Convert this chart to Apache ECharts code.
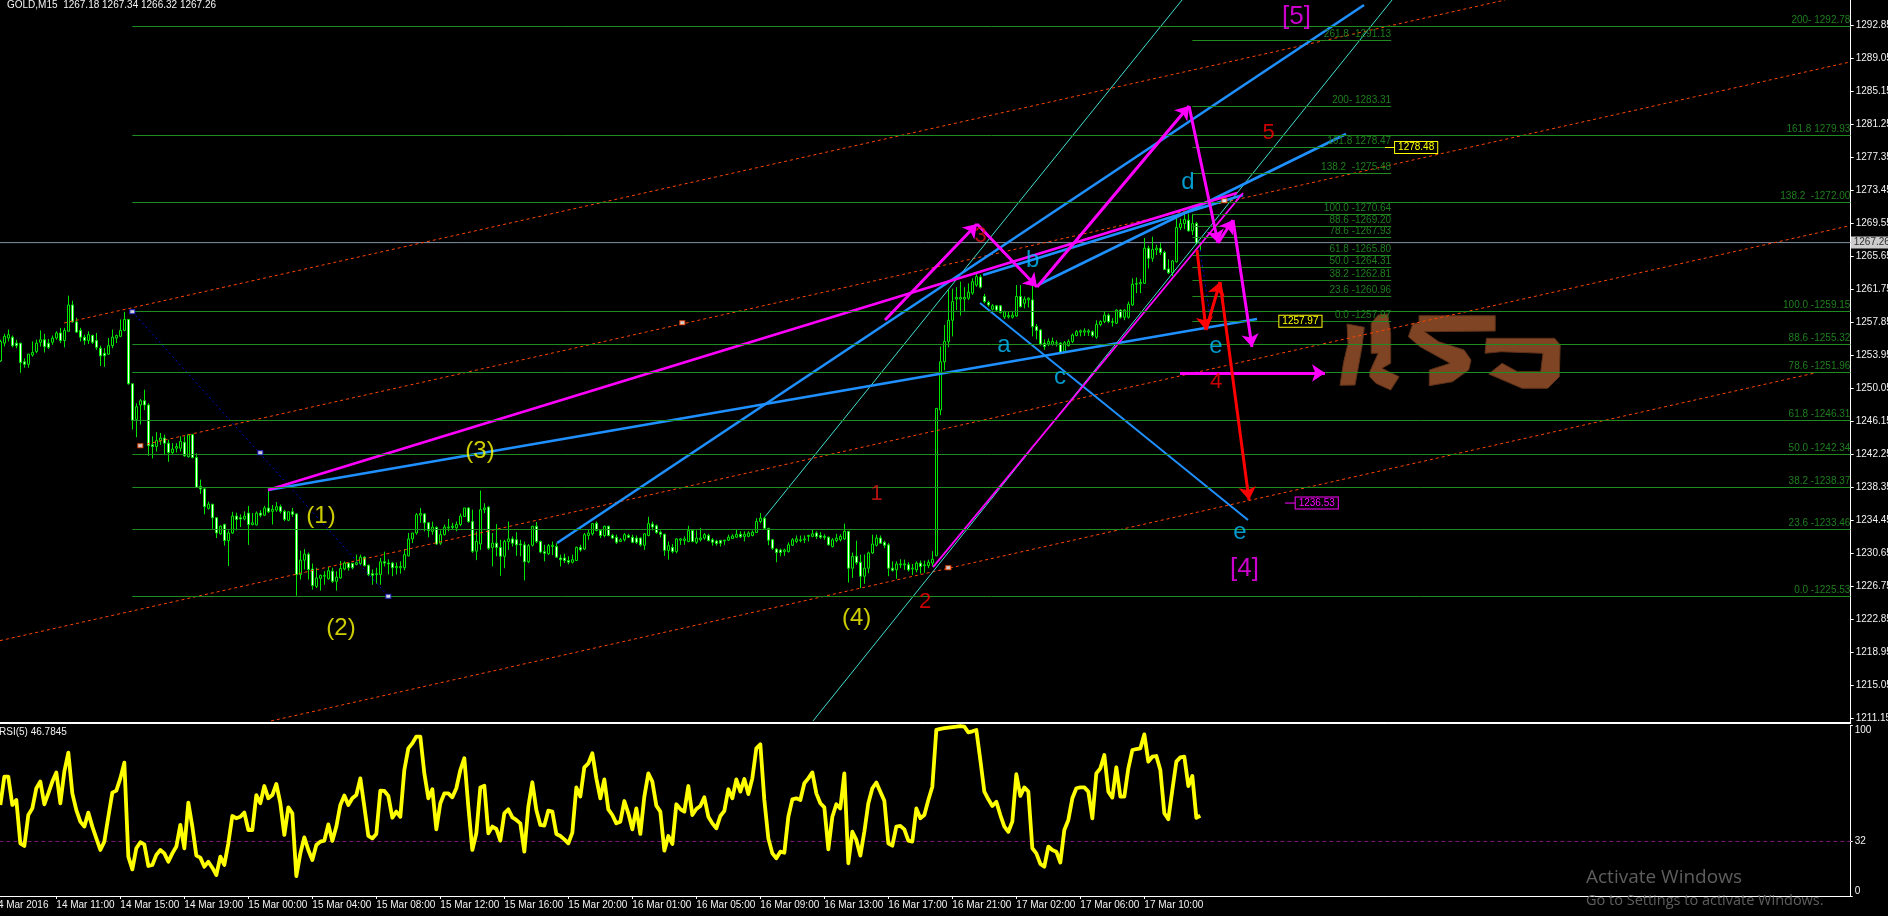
<!DOCTYPE html>
<html><head><meta charset="utf-8"><title>GOLD,M15</title>
<style>html,body{margin:0;padding:0;background:#000;overflow:hidden}#c{width:1888px;height:916px}</style>
<script src="https://cdn.jsdelivr.net/npm/echarts@6/dist/echarts.min.js"></script></head>
<body><div id="c"></div><script>
// [open, close, low, high], one row per 15-minute bar
const ohlc = [
[1253.3,1255.6,1253.2,1255.8],[1255.4,1256.2,1255.0,1256.5],[1256.0,1256.4,1255.6,1257.0],[1256.1,1255.1,1254.9,1256.3],[1255.4,1255.1,1254.8,1255.8],
[1255.4,1253.1,1251.9,1255.4],[1253.2,1252.9,1252.5,1253.6],[1252.9,1254.1,1252.5,1254.1],[1254.0,1254.3,1253.8,1255.6],[1254.4,1255.4,1254.2,1255.8],
[1255.5,1255.8,1255.0,1256.9],[1255.8,1255.0,1254.3,1256.5],[1255.4,1254.9,1254.7,1255.9],[1255.5,1256.0,1255.2,1256.3],[1256.0,1256.6,1255.8,1256.8],
[1256.6,1255.7,1255.4,1257.2],[1255.7,1256.9,1254.9,1257.2],[1256.8,1259.9,1256.8,1261.0],[1259.9,1257.9,1257.8,1260.4],[1257.9,1256.7,1256.6,1258.4],
[1256.9,1256.1,1255.6,1257.2],[1256.1,1255.7,1255.2,1256.4],[1255.7,1256.4,1255.3,1256.8],[1256.3,1255.5,1255.3,1256.4],[1255.7,1254.9,1254.6,1256.6],
[1254.8,1253.9,1252.7,1255.1],[1254.2,1253.9,1252.6,1254.8],[1254.1,1255.1,1254.0,1256.0],[1255.1,1256.1,1254.8,1257.0],[1256.0,1256.3,1255.4,1256.4],
[1256.2,1256.9,1256.1,1258.2],[1256.9,1258.2,1256.8,1259.1],[1258.2,1250.6,1250.5,1258.2],[1250.6,1246.3,1245.2,1250.6],[1246.4,1247.9,1244.3,1248.3],
[1248.1,1248.6,1245.8,1248.8],[1248.6,1248.1,1247.5,1249.9],[1248.1,1243.3,1242.1,1248.3],[1243.4,1243.2,1241.8,1244.4],[1243.2,1243.9,1242.6,1244.9],
[1243.9,1244.2,1243.4,1244.8],[1244.2,1243.6,1242.3,1244.6],[1243.6,1242.5,1241.4,1244.0],[1242.5,1242.9,1242.2,1243.6],[1243.0,1243.2,1242.5,1243.6],
[1243.0,1243.8,1242.6,1244.4],[1243.7,1242.1,1242.0,1244.4],[1242.0,1244.6,1241.9,1244.6],[1244.6,1241.9,1241.8,1244.7],[1241.9,1238.4,1238.3,1242.4],
[1238.5,1238.2,1237.6,1239.3],[1238.2,1236.1,1235.2,1238.3],[1235.9,1236.4,1235.75,1236.7],[1236.4,1234.8,1233.5,1236.4],[1234.8,1233.0,1232.4,1234.8],
[1232.9,1233.8,1232.8,1233.9],[1234.0,1232.1,1231.5,1234.1],[1232.1,1233.0,1229.1,1233.3],[1233.0,1235.0,1232.9,1235.5],[1235.0,1234.6,1233.3,1235.4],
[1234.8,1234.65,1233.7,1235.2],[1234.65,1235.0,1234.5,1235.55],[1235.35,1234.0,1231.6,1236.2],[1234.0,1234.2,1233.9,1235.35],[1233.95,1235.35,1233.9,1235.55],
[1235.35,1235.1,1234.85,1235.7],[1235.1,1235.95,1235.0,1236.2],[1235.95,1235.5,1235.35,1238.0],[1235.55,1235.8,1234.0,1236.3],[1235.7,1236.1,1235.5,1236.65],
[1236.1,1235.55,1235.3,1236.35],[1235.55,1234.6,1234.4,1235.75],[1234.5,1235.5,1234.4,1235.55],[1235.5,1235.2,1234.9,1235.95],[1235.25,1228.1,1225.6,1235.3],
[1228.1,1229.8,1227.5,1230.9],[1229.8,1230.5,1228.7,1231.1],[1230.5,1228.7,1227.5,1230.7],[1228.75,1226.8,1226.3,1229.4],[1226.7,1227.7,1226.5,1228.9],
[1227.65,1228.0,1226.2,1228.1],[1227.9,1228.0,1226.9,1228.5],[1227.6,1228.55,1227.5,1229.0],[1228.5,1227.3,1227.1,1228.9],[1227.3,1227.8,1226.2,1228.5],
[1227.7,1228.8,1227.6,1229.7],[1228.75,1229.45,1228.6,1229.65],[1229.45,1228.9,1228.55,1229.5],[1229.4,1228.9,1228.7,1229.5],[1229.3,1229.5,1229.2,1230.45],
[1229.4,1230.15,1229.25,1230.45],[1230.15,1229.15,1229.05,1230.25],[1229.2,1228.1,1227.9,1229.25],[1228.2,1228.0,1226.9,1228.7],[1228.1,1228.2,1227.0,1228.9],
[1228.1,1229.6,1226.9,1230.05],[1229.6,1229.45,1229.05,1230.8],[1229.45,1229.35,1228.1,1229.9],[1229.45,1228.9,1227.9,1229.6],[1228.9,1229.05,1228.1,1229.5],
[1228.9,1229.05,1228.2,1229.65],[1228.9,1230.45,1228.6,1231.1],[1230.3,1232.3,1230.25,1233.0],[1232.3,1233.0,1231.8,1233.0],[1233.0,1235.15,1232.8,1235.35],
[1235.1,1235.3,1234.2,1235.95],[1235.25,1234.2,1233.2,1235.35],[1234.2,1233.3,1232.5,1234.25],[1233.2,1233.7,1232.8,1234.35],[1233.65,1231.7,1231.6,1233.8],
[1231.8,1232.8,1231.6,1233.3],[1232.8,1233.7,1232.7,1234.0],[1233.6,1233.7,1233.2,1234.65],[1233.65,1233.8,1233.45,1234.2],[1233.6,1234.0,1233.2,1234.35],
[1234.0,1235.0,1233.8,1235.3],[1234.95,1235.95,1234.9,1235.95],[1235.95,1234.35,1234.2,1236.05],[1234.35,1230.85,1230.65,1235.75],[1230.85,1232.0,1229.8,1233.2],
[1231.7,1235.75,1231.0,1238.0],[1235.75,1235.95,1235.35,1236.5],[1236.06,1231.2,1231.0,1236.15],[1231.3,1231.8,1229.05,1233.0],[1231.8,1231.3,1230.25,1234.05],
[1231.3,1230.25,1227.95,1232.2],[1230.25,1232.0,1228.85,1232.2],[1232.0,1232.3,1231.0,1234.35],[1232.3,1231.8,1231.4,1232.6],[1232.2,1231.6,1230.3,1233.1],
[1231.7,1231.6,1230.25,1232.2],[1231.6,1229.6,1227.4,1232.0],[1229.6,1231.5,1229.45,1231.7],[1231.55,1233.8,1231.4,1233.85],[1233.8,1232.0,1231.8,1234.3],
[1232.0,1230.75,1230.6,1232.1],[1230.8,1230.6,1229.65,1231.6],[1230.55,1231.5,1230.4,1231.7],[1231.4,1231.55,1230.4,1232.0],[1231.4,1230.15,1230.05,1231.8],
[1230.05,1229.85,1229.05,1230.45],[1230.05,1229.75,1229.45,1230.55],[1229.75,1229.55,1229.3,1230.25],[1229.55,1229.85,1229.4,1230.45],[1229.75,1231.3,1229.7,1231.4],
[1231.3,1231.0,1230.8,1231.6],[1231.1,1232.8,1231.0,1233.0],[1232.7,1233.0,1232.2,1233.4],[1232.9,1234.1,1232.7,1234.15],[1234.15,1233.3,1233.2,1234.35],
[1233.3,1232.7,1232.4,1233.45],[1232.7,1233.8,1232.5,1233.85],[1233.8,1232.7,1232.6,1233.85],[1232.7,1232.4,1232.3,1232.9],[1232.5,1231.9,1231.7,1232.8],
[1232.0,1232.2,1232.0,1232.4],[1232.2,1232.8,1232.0,1233.0],[1232.7,1232.5,1232.4,1232.9],[1232.5,1231.9,1231.8,1232.8],[1232.4,1231.9,1231.7,1232.7],
[1232.4,1231.6,1231.4,1232.5],[1231.55,1232.9,1231.0,1233.0],[1232.7,1234.1,1232.6,1234.9],[1234.05,1233.7,1233.3,1234.35],[1233.85,1233.05,1232.9,1234.0],
[1233.1,1232.85,1232.5,1233.3],[1232.85,1230.95,1230.3,1232.9],[1230.95,1231.5,1229.85,1232.0],[1231.3,1230.8,1230.6,1231.7],[1230.8,1232.3,1230.6,1232.4],
[1232.15,1232.3,1231.6,1232.4],[1232.1,1232.3,1231.6,1232.6],[1232.0,1233.3,1231.9,1233.85],[1233.3,1232.0,1231.9,1233.4],[1231.9,1232.4,1231.7,1233.3],
[1232.2,1232.4,1232.0,1233.6],[1232.4,1232.8,1232.2,1233.0],[1232.7,1232.1,1232.0,1232.9],[1232.2,1231.9,1231.5,1232.4],[1232.05,1231.75,1231.5,1232.2],
[1232.1,1231.8,1231.4,1232.2],[1232.05,1232.15,1231.6,1232.2],[1232.15,1232.5,1232.05,1232.8],[1232.35,1232.65,1232.3,1232.85],[1232.5,1232.85,1232.4,1233.45],
[1232.85,1232.55,1232.4,1233.2],[1232.6,1232.85,1232.0,1233.2],[1232.6,1233.0,1232.5,1233.2],[1232.7,1233.1,1232.6,1233.3],[1233.05,1234.35,1233.0,1234.75],
[1234.35,1234.75,1234.15,1235.35],[1234.75,1233.55,1233.45,1234.9],[1233.55,1232.15,1231.55,1233.6],[1232.2,1231.2,1231.0,1232.3],[1231.1,1230.7,1229.55,1231.2],
[1231.0,1230.7,1230.25,1231.15],[1230.8,1231.0,1230.3,1231.15],[1230.8,1231.6,1230.7,1231.9],[1231.55,1232.2,1231.5,1232.4],[1232.0,1232.3,1231.8,1232.7],
[1232.1,1232.2,1231.9,1232.7],[1232.2,1232.3,1231.8,1232.7],[1232.6,1232.7,1232.0,1232.8],[1232.6,1232.9,1232.5,1233.4],[1233.0,1232.6,1232.3,1233.2],
[1232.7,1232.5,1232.3,1233.1],[1232.6,1232.5,1232.2,1232.85],[1232.5,1231.6,1231.5,1232.6],[1231.4,1232.2,1231.3,1232.4],[1232.1,1232.4,1231.9,1232.9],
[1232.2,1232.6,1232.0,1232.85],[1232.3,1233.2,1232.2,1234.1],[1233.2,1228.85,1227.15,1233.25],[1228.85,1230.25,1227.7,1230.7],[1230.25,1229.5,1229.25,1232.1],
[1229.55,1227.9,1226.5,1230.45],[1227.9,1228.85,1227.0,1230.45],[1228.85,1230.65,1228.25,1230.8],[1230.65,1231.7,1230.55,1232.8],[1231.55,1232.4,1231.4,1232.8],
[1232.4,1231.8,1231.7,1232.7],[1231.9,1231.55,1231.2,1232.1],[1231.6,1228.85,1227.9,1231.8],[1228.85,1228.6,1228.45,1229.65],[1228.65,1229.35,1227.6,1229.65],
[1229.25,1229.35,1228.85,1229.9],[1229.25,1229.35,1228.65,1229.85],[1229.25,1228.65,1228.45,1229.55],[1228.75,1228.85,1228.05,1229.35],[1228.65,1229.45,1228.35,1229.65],
[1229.45,1229.05,1228.2,1229.75],[1229.15,1229.25,1228.3,1229.75],[1229.15,1229.55,1228.85,1229.85],[1229.45,1229.9,1229.05,1230.85],[1230.3,1247.7,1230.3,1247.7],
[1247.5,1253.2,1246.9,1255.0],[1253.2,1255.6,1252.2,1257.55],[1255.6,1258.1,1254.9,1261.7],[1258.1,1260.3,1256.2,1261.8],[1260.6,1260.8,1259.3,1262.0],
[1260.6,1260.8,1258.65,1262.65],[1260.6,1260.8,1259.1,1262.0],[1260.7,1261.4,1260.5,1262.45],[1261.3,1262.65,1261.1,1263.05],[1262.25,1263.25,1262.05,1263.7],
[1263.2,1262.0,1261.85,1263.45],[1260.9,1260.3,1260.1,1261.2],[1260.2,1259.9,1259.7,1260.4],[1259.4,1259.8,1259.25,1260.0],[1259.8,1259.3,1259.1,1259.9],
[1259.8,1259.0,1258.9,1259.9],[1258.5,1259.1,1258.25,1259.25],[1258.5,1258.65,1258.3,1259.1],[1258.45,1258.7,1258.3,1259.2],[1258.6,1260.9,1258.5,1262.25],
[1260.9,1259.7,1259.6,1262.25],[1260.1,1260.6,1259.5,1260.9],[1260.5,1260.7,1259.6,1260.8],[1260.5,1257.35,1256.2,1262.15],[1257.35,1256.9,1255.85,1257.65],
[1256.95,1255.3,1255.1,1257.05],[1255.4,1255.0,1254.6,1255.85],[1255.3,1255.6,1255.05,1255.95],[1255.25,1255.6,1255.1,1256.05],[1255.4,1255.45,1255.0,1255.75],
[1255.4,1254.3,1254.2,1255.5],[1254.4,1255.45,1254.3,1255.65],[1255.1,1255.6,1255.0,1255.85],[1255.6,1256.35,1255.4,1256.55],[1256.3,1256.75,1256.2,1256.95],
[1256.7,1256.85,1256.2,1257.0],[1256.7,1256.85,1256.25,1257.15],[1256.7,1256.85,1256.25,1257.05],[1256.75,1256.3,1256.1,1256.9],[1256.1,1257.6,1255.9,1258.1],
[1257.6,1257.95,1257.4,1258.1],[1257.95,1258.7,1257.75,1259.2],[1258.7,1257.95,1257.75,1258.9],[1257.85,1257.95,1257.35,1258.35],[1257.75,1259.3,1257.65,1259.4],
[1259.3,1258.45,1258.3,1259.4],[1258.45,1259.3,1258.1,1259.4],[1258.45,1260.0,1258.3,1260.3],[1259.9,1262.35,1259.8,1263.05],[1262.35,1262.45,1261.3,1263.15],
[1262.4,1262.55,1261.3,1262.95],[1262.45,1266.6,1262.4,1267.8],[1266.6,1265.4,1264.2,1266.9],[1265.4,1266.45,1265.0,1267.95],[1266.4,1266.6,1265.8,1267.0],
[1266.6,1266.1,1265.8,1267.2],[1266.1,1264.1,1264.05,1266.3],[1264.15,1263.7,1263.55,1265.3],[1263.7,1265.1,1263.3,1265.2],[1265.0,1269.05,1264.9,1270.25],
[1269.05,1269.5,1268.75,1270.1],[1269.5,1270.0,1268.85,1270.85],[1269.9,1268.65,1268.55,1270.7],[1268.65,1269.5,1268.15,1270.65],[1269.5,1267.2,1267.05,1269.7],
[1267.18,1267.26,1266.32,1267.34]
];
const rsiValues = [
53.4,70,70,53.4,56.3,30.9,29.3,47.5,51.4,63.2,67.1,53.8,60.2,67.1,72.5,54.4,72.9,84.1,60.2,50.4,43.6,40.7,48.9,40.7,33.8,27,31.9,46.5,60.6,61.8,69,78.2,23.1,15.6,28,31.5,30.3,17.6,18.2,24.1,27,25,20.1,25,29,41.7,28,54.8,40.7,23.7,22.5,17.2,20.1,16.6,12.3,23.1,18.2,30.9,46.9,45.6,46.5,48.9,38.7,38.7,59.2,54.4,64.5,57.3,59.2,65.7,54.4,35.8,52,48.5,11.7,25,34.4,27,21.1,29.9,31.9,32.5,42,32.3,40.7,53.4,58.9,53.4,57.3,59.2,69,52.4,35.2,33.8,36.4,61.8,61.6,58.7,45.9,49.5,46.5,73.9,86.6,89.5,93.5,93.5,71.9,57.3,62.6,39.1,54.4,60.2,60.2,57.9,63.2,73.9,80.8,52.4,27,36.8,63.7,64.7,36.8,40.7,39.3,32.5,48.5,50.8,46.1,44.6,42.6,26,52.4,66.7,50.4,41.7,41.3,50.1,49.5,36.4,35.2,33.2,30.9,37.2,63.7,58.3,75.5,77.8,83.7,69,57.3,68.4,50.8,47.5,42.6,43.6,
55.7,48.5,39.1,51.4,36.4,58.3,71.9,67.1,53,49.5,26.6,35.2,30.5,53.8,51,49.5,64.5,47.5,51,52.8,57.9,46.5,42.6,39.7,46.9,49.9,62.6,57.3,68.4,61.2,68.6,59.8,69,86.6,89,56.3,33.8,25,22.1,26,25.4,46.5,56.7,57.3,56.3,66.1,69,72.5,60.2,54.4,52,27.4,46.5,53.8,51.4,71.9,19.2,37.7,32.9,23.7,37.7,54.4,63.2,66.5,61.2,55.9,30.9,29.5,40.7,41.1,39.1,32.5,31.9,51.4,45.6,47.5,56.3,64.1,97.4,98.0,98.4,98.7,99.0,99.3,99.7,99.3,96,96.6,97.4,79.8,61.2,56.7,52.8,55.3,47.5,40.7,37.7,43.6,71.4,58.7,63.7,61.2,28,25,18.8,17.2,29,27,26,19.6,38.7,44.6,57.3,63.2,63.7,63.7,61.2,45.6,71.9,74.9,82.7,61.2,57.7,75.5,58.3,58.3,74.9,85.6,86.2,86.6,94.8,78.8,81.7,82.1,73.9,48.5,45,62.2,78.8,81.3,81.7,64.5,70.4,45.9,47.1
];
const timeLabels = ['14 Mar 2016','14 Mar 11:00','14 Mar 15:00','14 Mar 19:00','15 Mar 00:00','15 Mar 04:00','15 Mar 08:00','15 Mar 12:00','15 Mar 16:00','15 Mar 20:00','16 Mar 01:00','16 Mar 05:00','16 Mar 09:00','16 Mar 13:00','16 Mar 17:00','16 Mar 21:00','17 Mar 02:00','17 Mar 06:00','17 Mar 10:00'];
const priceTicks = [1292.85,1289.05,1285.15,1281.25,1277.35,1273.45,1269.55,1265.65,1261.75,1257.85,1253.95,1250.05,1246.15,1242.25,1238.35,1234.45,1230.65,1226.75,1222.85,1218.95,1215.05,1211.15];
const rsiTicks = [0,32,100];
const rsiLevel = 32;
const lastPrice = 1267.26;
// Fibonacci levels: [name, price]
const fibLong = [['200- ',1292.78],['161.8 ',1279.93],['138.2  -',1272.00],['100.0 -',1259.15],['88.6 -',1255.32],['78.6 -',1251.96],['61.8 -',1246.31],['50.0 -',1242.34],['38.2 -',1238.37],['23.6 -',1233.46],['0.0 -',1225.53]];
const fibShort = [['261.8 -',1291.13],['200- ',1283.31],['161.8 ',1278.47],['138.2  -',1275.48],['100.0 -',1270.64],['88.6 -',1269.20],['78.6 -',1267.93],['61.8 -',1265.80],['50.0 -',1264.31],['38.2 -',1262.81],['23.6 -',1260.96],['0.0 -',1257.97]];
const fibLongSpan = [35, 464.5];
const fibShortSpan = [300, 349.7];
// Trend lines: [barA, priceA, barB, priceB]
const orangeChannels = [[17.92,1257.77,378.17,1295.88],[38.67,1243.50,464.42,1288.57],[1.92,1220.30,464.42,1269.26],[69.67,1210.82,455.67,1251.88]];
const cyanChannels = [[193.17,1234.92,297.42,1295.88],[205.17,1210.82,349.92,1295.88]];
const blueTrends = [[68.92,1238.07,316.17,1258.24],[141.17,1231.82,342.92,1295.29],[247.67,1263.44,312.67,1272.88],[261.42,1262.26,338.42,1280.07],[246.92,1260.13,313.92,1234.53]];
const magentaTrends = [[235.17,1228.98,312.67,1273.11],[68.92,1238.07,311.17,1273.11]];
const fibDiagonals = [[35,1259.11,99,1225.53],[301.92,1266.39,304.42,1258.6]];
const magentaPath = [[223.17,1258.13],[246.17,1269.45],[261.17,1262.02],[299.17,1283.38],[306.42,1267.21],[310.17,1269.93],[314.92,1254.94]];
const magentaFlat = [[296.92,1251.88],[333.17,1251.88]];
const redPath = [[301.17,1266.39],[303.42,1256.95],[306.92,1262.61],[314.17,1236.89]];
const fibAnchors = [[35,1259.11],[67,1242.47],[99,1225.53]];
const channelAnchors = [[37,1243.3],[172.5,1257.8],[239,1228.9],[308,1272.2]];
// Wave annotations: [text, bar, price, colour, size]
const waveLabels = [
['(1)',82.17,1235.0,'#ffff00',24],['(2)',87.17,1221.79,'#ffff00',24],['(3)',121.92,1242.61,'#ffff00',24],['(4)',216.09,1222.97,'#ffff00',24],
['1',221.09,1237.6,'#d81515',22],['2',233.17,1224.9,'#ff0000',22],['3',247.09,1268.04,'#d81515',22],['4',305.92,1250.85,'#ff0000',22],['5',319.07,1280.19,'#ff0000',22],
['a',252.92,1255.18,'#00bfff',24],['b',260.09,1265.2,'#00bfff',24],['c',266.92,1251.4,'#00bfff',24],['d',298.89,1274.33,'#00bfff',24],['e',305.92,1254.98,'#00bfff',24],['e',311.89,1233.08,'#00bfff',24],
['[4]',313.04,1228.83,'#ff00ff',26],['[5]',326.04,1293.84,'#ff00ff',26]];
// Price tags: [text value, bar, tick start bar, colour]
const priceTags = [[1278.48,350.67,348.17,'#ffff00'],[1257.97,321.74,321.74,'#ffff00'],[1236.53,325.82,323.17,'#ff00ff']];

const SANS = '"Liberation Sans",sans-serif';
const SMALL = 10;
const BAR0 = 2, XMAX = 464.59;
const line2 = (seg,color,width,type,z) => ({type:'line',xAxisIndex:0,yAxisIndex:0,data:[[seg[0],seg[1]],[seg[2],seg[3]]],symbol:'none',silent:true,z:z||3,lineStyle:{color,width,type:type||'solid',cap:'butt'}});
const pathArrows = (pts,color,width) => ({type:'line',xAxisIndex:0,yAxisIndex:0,data:[],symbol:'none',silent:true,z:6,
  markLine:{animation:false,silent:true,symbol:['none','arrow'],symbolSize:13,label:{show:false},lineStyle:{color,width,type:'solid'},emphasis:{disabled:true},
    data:pts.slice(0,-1).map((p,i)=>[{coord:p},{coord:pts[i+1]}])}});
const levelSeries = (list,span) => ({type:'line',xAxisIndex:0,yAxisIndex:0,data:[],symbol:'none',silent:true,z:2,
  markLine:{animation:false,silent:true,symbol:'none',lineStyle:{color:'#1e8c1e',width:1,type:'solid'},emphasis:{disabled:true},
    label:{show:true,position:'insideEndTop',distance:[0,1],color:'#1f7f1f',fontFamily:SANS,fontSize:SMALL},
    data:list.map(l=>[{coord:[span[0],l[1]],label:{formatter:l[0]+l[1].toFixed(2)}},{coord:[span[1],l[1]]}])}});
const logo = [
 [[1347,324],[1364.3,327.3],[1362,346.7],[1355,385],[1340,385.3],[1343.4,363.3],[1348,343.3]],
 [[1371.2,353.3],[1371.2,323.3],[1378.2,315],[1387.5,314],[1390.7,333.3],[1390.7,363.3],[1381.9,368.3],[1399.1,376.7],[1390.7,390],[1375.9,383.3],[1369.8,376.7],[1369.8,371.7],[1373.6,363.3],[1378.2,353.3]],
 [[1419,315.7],[1495.2,315.7],[1495.2,331],[1424.6,331.7],[1438.6,341.7],[1464.1,350],[1471,360],[1468.7,370],[1452.5,381.7],[1429.3,385.7],[1429.3,370],[1450.2,363.3],[1420,346.7],[1408.4,336.7],[1413,323.3],[1419,323.3]],
 [[1486.4,338.3],[1554.6,338.3],[1560.2,345],[1559.3,376.7],[1547.7,388.3],[1522.1,388.3],[1488.7,374],[1502.1,363.3],[1517.5,371.7],[1540.7,371.7],[1543,353.3],[1501.2,351.7],[1485,353.3]]
];
const series = [
 {type:'candlestick',xAxisIndex:0,yAxisIndex:0,silent:true,z:2.5,barWidth:3,clip:true,encode:{x:0,y:[1,2,3,4]},
  itemStyle:{color:'#000',color0:'#fff',borderColor:'#00e600',borderColor0:'#00e600',borderWidth:1},
  data:ohlc.map((r,i)=>[i+BAR0,r[0],r[1],r[2],r[3]])},
 levelSeries(fibLong,fibLongSpan), levelSeries(fibShort,fibShortSpan),
 line2([0,lastPrice,XMAX,lastPrice],'#8290a0',1,'solid',2),
];
orangeChannels.forEach(s=>series.push(line2(s,'#ff4500',1,[3,3])));
cyanChannels.forEach(s=>series.push(line2(s,'#40e0d0',1)));
fibDiagonals.forEach(s=>series.push(line2(s,'#0000d0',1,[2,3])));
blueTrends.forEach((s,i)=>series.push(line2(s,'#1e90ff',i===4?2:2.6,'solid',4)));
magentaTrends.forEach((s,i)=>series.push(line2(s,'#ff00ff',i===0?1.8:2.6,'solid',4)));
series.push(pathArrows(magentaPath,'#ff00ff',3), pathArrows(magentaFlat,'#ff00ff',3), pathArrows(redPath,'#ff0000',3));
series.push({type:'scatter',xAxisIndex:0,yAxisIndex:0,silent:true,z:5,symbol:'rect',symbolSize:[5,4],itemStyle:{color:'#fff',borderColor:'#1818e0',borderWidth:1},data:fibAnchors});
series.push({type:'scatter',xAxisIndex:0,yAxisIndex:0,silent:true,z:5,symbol:'rect',symbolSize:[5,4],itemStyle:{color:'#fff',borderColor:'#ff4500',borderWidth:1},data:channelAnchors});
series.push({type:'scatter',xAxisIndex:0,yAxisIndex:0,silent:true,z:7,symbolSize:1,itemStyle:{color:'transparent'},
  data:waveLabels.map(w=>({value:[w[1],w[2]],label:{show:true,position:'inside',formatter:w[0],color:w[3],fontSize:w[4],fontFamily:SANS}}))});
priceTags.forEach(t=>{
  series.push({type:'line',xAxisIndex:0,yAxisIndex:0,silent:true,z:7,symbol:'none',lineStyle:{color:t[3],width:1},clip:false,
    data:[[t[2],t[0]],{value:[t[1],t[0]],symbol:'circle',symbolSize:0.1,label:{show:true,position:'right',distance:0,formatter:t[0].toFixed(2),color:t[3],backgroundColor:'#000',borderColor:t[3],borderWidth:1,padding:[1,3,0,3],fontFamily:SANS,fontSize:SMALL,lineHeight:10}}]});
});
// current-price tag on the axis
series.push({type:'scatter',xAxisIndex:0,yAxisIndex:0,silent:true,z:8,clip:false,symbolSize:0.1,
  data:[{value:[XMAX,lastPrice],label:{show:true,position:'right',distance:0,formatter:lastPrice.toFixed(2),color:'#000',backgroundColor:'#fff',padding:[1,3,1,3],fontFamily:SANS,fontSize:SMALL,lineHeight:10}}]});
// RSI pane
series.push({type:'line',xAxisIndex:1,yAxisIndex:1,silent:true,z:4,clip:false,symbol:'none',lineStyle:{color:'#ffff00',width:3.8,join:'round'},data:rsiValues.map((v,i)=>[i+BAR0,v])});
series.push(Object.assign(line2([0,rsiLevel,XMAX,rsiLevel],'#7a1a7a',1,[4,3],3),{xAxisIndex:1,yAxisIndex:1}));

const tickStep = 16;
const hiddenX = {type:'value',min:0,max:XMAX,axisLabel:{show:false},axisTick:{show:false},splitLine:{show:false},axisLine:{show:true,onZero:false,lineStyle:{color:'#fff',width:1}}};
const option = {
 backgroundColor:'#000',animation:false,tooltip:{show:false},legend:{show:false},
 title:[
  {text:'GOLD,M15  1267.18 1267.34 1266.32 1267.26',left:7,top:0,padding:0,textStyle:{color:'#f4f4f4',fontWeight:'normal',fontSize:SMALL,fontFamily:SANS}},
  {text:'RSI(5) 46.7845',left:-1,top:727,padding:0,textStyle:{color:'#f0f0f0',fontWeight:'normal',fontSize:SMALL,fontFamily:SANS}},
  {text:'Activate Windows',left:1586,top:868,padding:0,textStyle:{color:'#5e5e5e',fontWeight:'normal',fontSize:19,fontFamily:'"Open Sans","Noto Sans",sans-serif'}},
  {text:'Go to Settings to activate Windows.',left:1586,top:893,padding:0,textStyle:{color:'#5e5e5e',fontWeight:'normal',fontSize:14.5,fontFamily:'"Open Sans","Noto Sans",sans-serif'}}
 ],
 graphic:logo.map(p=>({type:'polygon',silent:true,z:-1,shape:{points:p},style:{fill:'#7f4423',stroke:'#5e3118',lineWidth:1}})),
 grid:[{left:-7.67,top:0,width:1858.37,height:722,containLabel:false,outerBoundsMode:'none'},{left:-7.67,top:725.5,width:1858.37,height:170.5,containLabel:false,outerBoundsMode:'none'}],
 xAxis:[
  Object.assign({},hiddenX,{gridIndex:0,position:'bottom'}),
  {type:'value',gridIndex:1,position:'bottom',min:0,max:XMAX,splitLine:{show:false},
   axisLine:{show:true,onZero:false,lineStyle:{color:'#fff',width:1}},
   axisTick:{show:true,length:3,lineStyle:{color:'#fff'},customValues:timeLabels.map((_,i)=>i*tickStep)},
   axisLabel:{show:true,color:'#f2f2f2',fontFamily:SANS,fontSize:SMALL,margin:4,align:'left',hideOverlap:false,showMinLabel:true,showMaxLabel:true,
     customValues:timeLabels.map((_,i)=>i*tickStep),formatter:v=>timeLabels[Math.round(v/tickStep)]||''}},
  Object.assign({},hiddenX,{gridIndex:1,position:'top',offset:2})
 ],
 yAxis:[
  {type:'value',gridIndex:0,position:'right',min:1210.70,max:1295.883,scale:true,splitLine:{show:false},
   axisLine:{show:true,onZero:false,lineStyle:{color:'#fff',width:1}},
   axisTick:{show:true,length:3,lineStyle:{color:'#fff'},customValues:priceTicks},
   axisLabel:{show:true,color:'#f2f2f2',fontFamily:SANS,fontSize:SMALL,margin:5,hideOverlap:false,customValues:priceTicks,formatter:v=>v.toFixed(2)}},
  {type:'value',gridIndex:1,position:'right',min:0,max:100,splitLine:{show:false},
   axisLine:{show:true,onZero:false,lineStyle:{color:'#fff',width:1}},
   axisTick:{show:true,length:2,lineStyle:{color:'#fff'},customValues:rsiTicks},
   axisLabel:{show:true,color:'#f2f2f2',fontFamily:SANS,fontSize:SMALL,margin:4,hideOverlap:false,customValues:rsiTicks,verticalAlignMinLabel:'bottom',verticalAlignMaxLabel:'top',formatter:v=>String(v)}}
 ],
 series
};
const chart = echarts.init(document.getElementById('c'),null,{renderer:'canvas',width:1888,height:916});
chart.setOption(option);
</script></body></html>
